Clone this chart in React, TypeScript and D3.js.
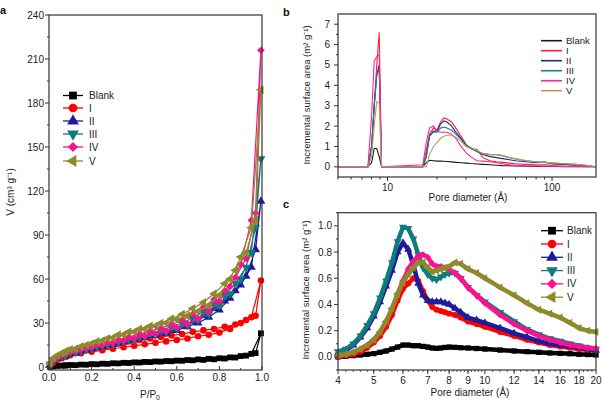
import React from 'react';
import * as d3 from 'd3';

const SERIES = ['Blank', 'I', 'II', 'III', 'IV', 'V'];
const COLORS = ['#000000', '#ff0000', '#1c1c9c', '#0f7b7b', '#ff1090', '#8e8a2c'];
const COLORS_B = ['#1a1a1a', '#ff1f3a', '#26268f', '#1a8080', '#ff2595', '#b79e62'];
const SYMS = ['square', 'circle', 'triUp', 'triDown', 'diamond', 'triLeft'];

// ---- panel a: N2 isotherms
const P_ADS = [0.005, 0.02, 0.04, 0.06, 0.08, 0.1, 0.15, 0.2, 0.25, 0.3, 0.35, 0.4, 0.45, 0.5, 0.55, 0.6, 0.65, 0.7, 0.75, 0.8, 0.85, 0.9, 0.95, 0.995];
const P_DES = [0.97, 0.925, 0.875, 0.825, 0.775, 0.725, 0.675, 0.625, 0.575, 0.525, 0.475, 0.425, 0.375, 0.325, 0.275, 0.225, 0.175, 0.125, 0.075];
const ADS_BLANK = [0.2, 0.5, 0.8, 1.0, 1.2, 1.4, 1.7, 2.0, 2.3, 2.6, 2.9, 3.2, 3.5, 3.8, 4.1, 4.4, 4.8, 5.2, 5.6, 6.0, 6.6, 7.5, 9, 23];
const DES_BLANK = [9.5, 7.8, 6.5, 5.8, 5.3, 4.9, 4.6, 4.3, 4.0, 3.7, 3.4, 3.1, 2.8, 2.5, 2.2, 1.9, 1.6, 1.3, 1.0];
const ADS_I = [1, 3, 5, 6, 7, 8, 9.5, 10.5, 11.5, 12.5, 13.5, 14.5, 15.5, 16.5, 17.5, 18.5, 19.5, 21, 22, 23.5, 26, 30, 34, 59];
const DES_I = [35, 32, 29, 27.5, 26, 25, 24, 22.5, 21.5, 20.5, 19.5, 18.5, 17.5, 16, 14.5, 13, 11.5, 10, 8];
const ADS_II = [1.5, 4, 6, 7.5, 8.5, 9.5, 11, 12.5, 14, 15.5, 17, 18.5, 20, 21.5, 23, 25, 27.5, 30, 34, 39, 47, 56, 68, 113];
const DES_II = [80, 62, 52, 45, 40, 35, 31, 28, 25.5, 23.5, 21.5, 20, 18.5, 16.5, 15, 13.5, 11.5, 9.5, 7.5];
const ADS_III = [2, 4.5, 6.5, 8, 9, 10, 11.5, 13, 14.5, 16, 17.5, 19, 20.5, 22, 24, 26, 28.5, 32, 36, 42, 50, 60, 78, 142];
const DES_III = [95, 68, 57, 49, 43, 38, 33.5, 30, 27.5, 25, 23, 21, 19, 17, 15.5, 14, 12, 10, 8];
const ADS_IV = [2, 5, 7, 8.5, 9.5, 10.5, 12, 13.5, 15, 16.5, 18, 19.5, 21, 22.5, 24.5, 27, 29.5, 33, 38, 45, 55, 70, 100, 216];
const DES_IV = [105, 74, 61, 52, 46, 41, 36, 32, 29, 26.5, 24.5, 22.5, 20.5, 18.5, 16.5, 15, 13, 11, 9];
const ADS_V = [2.5, 6, 8, 9.5, 11, 12, 14, 16, 18, 20, 22, 24, 26, 28, 30, 32.5, 35, 38, 42, 49, 60, 75, 95, 189];
const DES_V = [100, 78, 66, 57, 50, 44, 40, 36, 33, 30, 28, 26, 24, 22, 19.5, 17.5, 15, 12.5, 10];
const ADS = [ADS_BLANK, ADS_I, ADS_II, ADS_III, ADS_IV, ADS_V];
const DES = [DES_BLANK, DES_I, DES_II, DES_III, DES_IV, DES_V];
const A_XTICKS = [0, 0.2, 0.4, 0.6, 0.8, 1.0];
const A_YTICKS = [0, 30, 60, 90, 120, 150, 180, 210, 240];

// ---- panel b: incremental surface area, wide range
const XB = [5, 7.6, 8.0, 8.3, 8.6, 8.9, 9.2, 16.4, 17.2, 18, 19, 20, 21, 22, 23, 24.5, 26, 28, 30, 32, 35, 38, 42, 46, 50, 55, 60, 70, 80, 90, 100, 120, 140, 160, 185];
const B_BLANK = [0, 0, 0.2, 0.9, 0.9, 0.5, 0, 0, 0.2, 0.32, 0.3, 0.28, 0.28, 0.27, 0.26, 0.24, 0.22, 0.2, 0.18, 0.16, 0.14, 0.12, 0.1, 0.08, 0.06, 0.05, 0.04, 0.03, 0.02, 0.02, 0.02, 0.01, 0.01, 0, 0];
const B_I = [0, 0, 1, 3, 5, 6.6, 0, 0, 0.8, 1.6, 1.9, 1.8, 2.2, 2.4, 2.35, 2.2, 1.9, 1.5, 1.1, 0.9, 0.85, 0.45, 0.3, 0.25, 0.22, 0.18, 0.15, 0.12, 0.1, 0.1, 0.08, 0.12, 0.06, 0.03, 0];
const B_II = [0, 0, 1, 3, 4.5, 5.0, 0, 0, 0.5, 1.5, 1.75, 1.75, 2.1, 2.25, 2.2, 2.0, 1.7, 1.4, 1.05, 0.9, 0.75, 0.6, 0.5, 0.45, 0.4, 0.35, 0.3, 0.25, 0.2, 0.25, 0.15, 0.12, 0.1, 0.05, 0];
const B_III = [0, 0, 1, 3, 4.5, 4.8, 0, 0, 0.5, 1.5, 1.7, 1.7, 1.9, 1.95, 1.9, 1.8, 1.6, 1.35, 1.05, 0.95, 0.75, 0.65, 0.6, 0.6, 0.55, 0.45, 0.38, 0.3, 0.25, 0.2, 0.18, 0.15, 0.12, 0.08, 0];
const B_IV = [0, 0, 2.5, 5.2, 5.4, 5.5, 0, 0.1, 1.2, 1.9, 2.0, 1.75, 1.7, 1.7, 1.7, 1.6, 1.4, 1.0, 0.7, 0.5, 0.3, 0.28, 0.25, 0.2, 0.15, 0.1, 0.08, 0.05, 0.04, 0.03, 0.03, 0.02, 0.02, 0.01, 0];
const B_V = [0, 0, 0.5, 2, 3.2, 3.1, 0, 0, 0, 0.6, 1.0, 1.2, 1.4, 1.5, 1.55, 1.55, 1.45, 1.25, 1.0, 0.9, 0.8, 0.65, 0.6, 0.6, 0.55, 0.45, 0.4, 0.3, 0.25, 0.22, 0.2, 0.15, 0.12, 0.08, 0];
const BDATA = [B_BLANK, B_I, B_II, B_III, B_IV, B_V];
const B_YTICKS = [0, 1, 2, 3, 4, 5, 6, 7];
const B_XTICKS = [10, 100];
const B_XMINOR = [5, 6, 7, 8, 9, 20, 30, 40, 50, 60, 70, 80, 90];

// ---- panel c: incremental surface area, micropores
const XC = [4, 4.2, 4.4, 4.6, 4.8, 5, 5.2, 5.4, 5.6, 5.8, 6, 6.2, 6.4, 6.6, 6.8, 7, 7.2, 7.4, 7.6, 7.8, 8, 8.3, 8.6, 9, 9.5, 10, 11, 12, 13, 14, 15, 16, 17, 18, 19, 20];
const C_BLANK = [0.0, 0.005, 0.01, 0.015, 0.02, 0.025, 0.035, 0.045, 0.06, 0.075, 0.09, 0.09, 0.085, 0.085, 0.08, 0.075, 0.068, 0.065, 0.068, 0.072, 0.075, 0.073, 0.07, 0.068, 0.064, 0.06, 0.052, 0.045, 0.04, 0.035, 0.03, 0.027, 0.024, 0.02, 0.018, 0.015];
const C_I = [0.0, 0.01, 0.02, 0.04, 0.07, 0.11, 0.16, 0.23, 0.32, 0.43, 0.52, 0.56, 0.6, 0.58, 0.5, 0.43, 0.38, 0.36, 0.35, 0.34, 0.33, 0.32, 0.3, 0.27, 0.25, 0.23, 0.19, 0.16, 0.13, 0.11, 0.09, 0.08, 0.07, 0.06, 0.055, 0.05];
const C_II = [0.03, 0.05, 0.09, 0.15, 0.22, 0.31, 0.42, 0.54, 0.66, 0.8, 0.87, 0.82, 0.7, 0.56, 0.47, 0.43, 0.42, 0.42, 0.42, 0.41, 0.4, 0.37, 0.34, 0.3, 0.28, 0.26, 0.22, 0.18, 0.15, 0.12, 0.1, 0.09, 0.08, 0.07, 0.06, 0.05];
const C_III = [0.04, 0.06, 0.1, 0.16, 0.24, 0.33, 0.45, 0.58, 0.72, 0.88, 0.99, 0.98, 0.9, 0.78, 0.68, 0.63, 0.6, 0.59, 0.61, 0.63, 0.64, 0.64, 0.6, 0.53, 0.47, 0.42, 0.34, 0.27, 0.21, 0.17, 0.14, 0.12, 0.1, 0.085, 0.07, 0.06];
const C_IV = [0.01, 0.02, 0.035, 0.06, 0.09, 0.13, 0.19, 0.27, 0.36, 0.48, 0.58, 0.67, 0.73, 0.77, 0.78, 0.76, 0.71, 0.69, 0.69, 0.68, 0.67, 0.64, 0.6, 0.53, 0.47, 0.41, 0.32, 0.25, 0.2, 0.16, 0.13, 0.11, 0.09, 0.08, 0.07, 0.065];
const C_V = [0.01, 0.02, 0.035, 0.06, 0.09, 0.13, 0.19, 0.27, 0.37, 0.48, 0.57, 0.63, 0.68, 0.72, 0.72, 0.68, 0.65, 0.66, 0.67, 0.68, 0.69, 0.72, 0.71, 0.67, 0.64, 0.6, 0.53, 0.47, 0.41, 0.36, 0.33, 0.3, 0.26, 0.22, 0.2, 0.19];
const CDATA = [C_BLANK, C_I, C_II, C_III, C_IV, C_V];
const C_XTICKS = [4, 5, 6, 7, 8, 9, 10, 12, 14, 16, 18, 20];
const C_YTICKS = [0, 0.2, 0.4, 0.6, 0.8, 1.0];

const FONT = 'Liberation Sans, Arial, Helvetica, sans-serif';
const TXT = '#222';

function symbolPath(kind: string, size: number) {
  const base = kind === 'circle' ? d3.symbolCircle : (kind === 'square' || kind === 'diamond') ? d3.symbolSquare : d3.symbolTriangle;
  const rot = kind === 'diamond' ? 45 : kind === 'triDown' ? 180 : kind === 'triLeft' ? -90 : 0;
  const s = kind === 'diamond' ? size * 0.85 : size;
  return { d: d3.symbol(base, s)() as string, rot };
}

function Marker({ kind, x, y, size, color }: any) {
  const { d, rot } = symbolPath(kind, size);
  return <path d={d} transform={`translate(${x},${y}) rotate(${rot})`} fill={color} />;
}

export default function App() {
  const xa = d3.scaleLinear().domain([0, 1]).range([49, 262]);
  const ya = d3.scaleLinear().domain([-2, 240]).range([370, 15]);
  const xb = d3.scaleLog().domain([5, 185]).range([338, 596]);
  const yb = d3.scaleLinear().domain([-0.5, 7.5]).range([177, 14]);
  const xc = d3.scaleLog().domain([4, 20]).range([338, 596]);
  const yc = d3.scaleLinear().domain([-0.1, 1.1]).range([370, 212.7]);

  const lineA = d3.line<[number, number]>().x(d => xa(d[0])).y(d => ya(d[1]));
  const lineB = d3.line<[number, number]>().x(d => xb(d[0])).y(d => yb(d[1]));
  const lineC = d3.line<[number, number]>().x(d => xc(d[0])).y(d => yc(d[1]));

  const axisColor = '#333';

  const aYMinor = d3.range(15, 240, 30);
  const aXMinor = [0.1, 0.3, 0.5, 0.7, 0.9];
  const bYMinor = d3.range(0.5, 7.5, 1);
  const cYMinor = [-0.1, 0.1, 0.3, 0.5, 0.7, 0.9, 1.1];
  const cXMinor = [...d3.range(4.2, 10, 0.2), ...d3.range(10.5, 20, 0.5)];

  return (
    <svg width={605} height={408} style={{ position: 'absolute', left: 0, top: 0, background: '#fff' }} fontFamily={FONT}>
      <rect x={0} y={0} width={605} height={408} fill="#fff" />

      {/* ===== Panel a ===== */}
      <text x={0} y={14} fontSize={11} fontWeight="bold" fill="#111">a</text>
      {SERIES.map((s, i) => {
        const pts: [number, number][] = [
          ...P_ADS.map((p, k) => [p, ADS[i][k]] as [number, number]),
          ...P_DES.map((p, k) => [p, DES[i][k]] as [number, number]),
        ];
        return (
          <g key={s}>
            <path d={lineA(pts) as string} fill="none" stroke={COLORS[i]} strokeWidth={1.2} />
            {pts.map((d, k) => (
              <Marker key={k} kind={SYMS[i]} x={xa(d[0])} y={ya(d[1])} size={34} color={COLORS[i]} />
            ))}
          </g>
        );
      })}
      <rect x={49} y={15} width={213} height={355} fill="none" stroke={axisColor} strokeWidth={1.2} />
      {A_YTICKS.map(t => (
        <g key={t}>
          <line x1={45} x2={49} y1={ya(t)} y2={ya(t)} stroke={axisColor} />
          <text x={44} y={ya(t) + 3.5} fontSize={10} textAnchor="end" fill={TXT}>{t}</text>
        </g>
      ))}
      {aYMinor.map(t => <line key={t} x1={47} x2={49} y1={ya(t)} y2={ya(t)} stroke={axisColor} />)}
      {A_XTICKS.map(t => (
        <g key={t}>
          <line x1={xa(t)} x2={xa(t)} y1={370} y2={366} stroke={axisColor} />
          <text x={xa(t)} y={381} fontSize={10} textAnchor="middle" fill={TXT}>{t.toFixed(1)}</text>
        </g>
      ))}
      {aXMinor.map(t => <line key={t} x1={xa(t)} x2={xa(t)} y1={370} y2={368} stroke={axisColor} />)}
      <text x={150} y={398} fontSize={10} textAnchor="middle" fill={TXT}>P/P<tspan fontSize={7} dy={2}>0</tspan></text>
      <text transform="translate(14,192) rotate(-90)" fontSize={10} textAnchor="middle" fill={TXT}>V (cm³ g⁻¹)</text>
      {SERIES.map((s, i) => {
        const y = [95.5, 108, 121, 134, 147, 161][i];
        return (
          <g key={s}>
            <line x1={63} x2={83} y1={y} y2={y} stroke={COLORS[i]} strokeWidth={1.3} />
            <Marker kind={SYMS[i]} x={73} y={y} size={60} color={COLORS[i]} />
            <text x={89} y={y + 3.5} fontSize={10} fill={TXT}>{s}</text>
          </g>
        );
      })}

      {/* ===== Panel b ===== */}
      <text x={283} y={16} fontSize={11} fontWeight="bold" fill="#111">b</text>
      {SERIES.map((s, i) => (
        <path key={s} d={lineB(XB.map((x, k) => [x, BDATA[i][k]] as [number, number])) as string}
          fill="none" stroke={COLORS_B[i]} strokeWidth={1.1} />
      ))}
      <rect x={338} y={14} width={258} height={163} fill="none" stroke={axisColor} strokeWidth={1.2} />
      {B_YTICKS.map(t => (
        <g key={t}>
          <line x1={334} x2={338} y1={yb(t)} y2={yb(t)} stroke={axisColor} />
          <text x={330} y={yb(t) + 3.5} fontSize={10} textAnchor="end" fill={TXT}>{t}</text>
        </g>
      ))}
      {bYMinor.map(t => <line key={t} x1={336} x2={338} y1={yb(t)} y2={yb(t)} stroke={axisColor} />)}
      {B_XTICKS.map(t => (
        <g key={t}>
          <line x1={xb(t)} x2={xb(t)} y1={177} y2={181} stroke={axisColor} />
          <text x={xb(t)} y={191} fontSize={10} textAnchor="middle" fill={TXT}>{t}</text>
        </g>
      ))}
      {B_XMINOR.map(t => <line key={t} x1={xb(t)} x2={xb(t)} y1={177} y2={179.5} stroke={axisColor} />)}
      <text x={468} y={201} fontSize={10} textAnchor="middle" fill={TXT}>Pore diameter (Å)</text>
      <text transform="translate(310,95) rotate(-90)" fontSize={9.5} textAnchor="middle" fill={TXT}>Incremental surface area (m² g⁻¹)</text>
      {SERIES.map((s, i) => {
        const y = 40.7 + i * 10;
        return (
          <g key={s}>
            <line x1={541} x2={562} y1={y} y2={y} stroke={COLORS_B[i]} strokeWidth={1.6} />
            <text x={566} y={y + 3.5} fontSize={9.5} fill={TXT}>{s}</text>
          </g>
        );
      })}

      {/* ===== Panel c ===== */}
      <text x={283} y={208} fontSize={11} fontWeight="bold" fill="#111">c</text>
      {SERIES.map((s, i) => {
        const pts = XC.map((x, k) => [x, CDATA[i][k]] as [number, number]);
        return (
          <g key={s}>
            <path d={lineC(pts) as string} fill="none" stroke={COLORS[i]} strokeWidth={4.5} strokeLinejoin="round" />
            {pts.map((d, k) => (
              <Marker key={k} kind={SYMS[i]} x={xc(d[0])} y={yc(d[1])} size={28} color={COLORS[i]} />
            ))}
          </g>
        );
      })}
      <rect x={338} y={212.7} width={258} height={157.3} fill="none" stroke={axisColor} strokeWidth={1.2} />
      {C_YTICKS.map(t => (
        <g key={t}>
          <line x1={334} x2={338} y1={yc(t)} y2={yc(t)} stroke={axisColor} />
          <text x={332} y={yc(t) + 3.5} fontSize={10} textAnchor="end" fill={TXT}>{t.toFixed(1)}</text>
        </g>
      ))}
      {cYMinor.map(t => <line key={t} x1={336} x2={338} y1={yc(t)} y2={yc(t)} stroke={axisColor} />)}
      {C_XTICKS.map(t => (
        <g key={t}>
          <line x1={xc(t)} x2={xc(t)} y1={370} y2={374} stroke={axisColor} />
          <text x={xc(t)} y={384} fontSize={10} textAnchor="middle" fill={TXT}>{t}</text>
        </g>
      ))}
      {cXMinor.map(t => <line key={t} x1={xc(t)} x2={xc(t)} y1={370} y2={372} stroke={axisColor} strokeWidth={0.8} />)}
      <text x={470} y={396} fontSize={10} textAnchor="middle" fill={TXT}>Pore diameter (Å)</text>
      <text transform="translate(309,290) rotate(-90)" fontSize={9.5} textAnchor="middle" fill={TXT}>Incremental surface area (m² g⁻¹)</text>
      {SERIES.map((s, i) => {
        const y = 230.7 + i * 13.3;
        return (
          <g key={s}>
            <line x1={541} x2={563} y1={y} y2={y} stroke={COLORS[i]} strokeWidth={1.3} />
            <Marker kind={SYMS[i]} x={552} y={y} size={60} color={COLORS[i]} />
            <text x={567} y={y + 3.5} fontSize={10} fill={TXT}>{s}</text>
          </g>
        );
      })}
    </svg>
  );
}
